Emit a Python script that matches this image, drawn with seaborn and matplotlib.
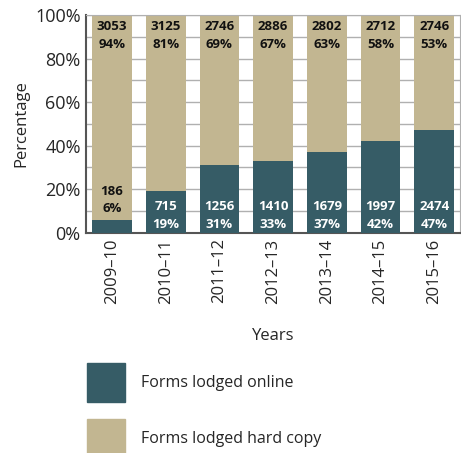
import numpy as np
import pandas as pd
import matplotlib
matplotlib.use("Agg")
import matplotlib.pyplot as plt
import matplotlib.patches as mpatches
import seaborn as sns

# data
years = ["2009–10", "2010–11", "2011–12", "2012–13", "2013–14", "2014–15", "2015–16"]
online_count = [186, 715, 1256, 1410, 1679, 1997, 2474]
hard_count = [3053, 3125, 2746, 2886, 2802, 2712, 2746]
online_pct = [6, 19, 31, 33, 37, 42, 47]
hard_pct = [94, 81, 69, 67, 63, 58, 53]

teal = "#365c66"
tan = "#c2b691"

sns.set_style("white")
plt.rcParams["font.family"] = ["Open Sans", "DejaVu Sans"]

df = pd.DataFrame({
    "year": years,
    "online": online_pct,
    "hard": hard_pct,
})
df["total"] = df["online"] + df["hard"]

fig = plt.figure(figsize=(4.61, 4.53), dpi=100)
ax = fig.add_axes([0.187, 0.486, 0.811, 0.481])

sns.barplot(data=df, x="year", y="total", color=tan, width=0.74,
            saturation=1, ax=ax, zorder=2, linewidth=0)
sns.barplot(data=df, x="year", y="online", color=teal, width=0.74,
            saturation=1, ax=ax, zorder=3, linewidth=0)

ax.set_ylim(0, 100)
ax.set_xlim(-0.48, len(years) - 0.52)
ax.set_yticks(range(0, 101, 20))
ax.set_yticklabels([f"{v}%" for v in range(0, 101, 20)], fontsize=13)
ax.set_yticks(range(0, 101, 10), minor=True)
ax.grid(axis="y", which="both", color="#b0b0b0", linewidth=1, zorder=0)
ax.set_axisbelow(True)
ax.tick_params(axis="y", which="both", length=0, pad=4)

ax.set_xticks(range(len(years)))
ax.set_xticklabels(years, rotation=90, fontsize=12)
ax.tick_params(axis="x", which="major", length=0, pad=4)
ax.set_xticks(np.arange(len(years) - 1) + 0.5, minor=True)
ax.tick_params(axis="x", which="minor", direction="in", length=4,
               width=1, color="#444444")

ax.set_xlabel("Years", fontsize=12, labelpad=17)
ax.set_ylabel("Percentage", fontsize=12, labelpad=4)

for side in ["top", "right"]:
    ax.spines[side].set_color("#b0b0b0")
for side in ["left", "bottom"]:
    ax.spines[side].set_color("#555555")
    ax.spines[side].set_linewidth(1.5)

# value labels
lbl = dict(ha="center", fontsize=9.5, fontweight="bold", linespacing=1.45,
           zorder=5)
for i in range(len(years)):
    ax.text(i, 97.5, f"{hard_count[i]}\n{hard_pct[i]}%", va="top",
            color="#111111", **lbl)
    if online_pct[i] < 12:
        ax.text(i, online_pct[i] + 2, f"{online_count[i]}\n{online_pct[i]}%",
                va="bottom", color="#111111", **lbl)
    else:
        ax.text(i, 1.0, f"{online_count[i]}\n{online_pct[i]}%",
                va="bottom", color="white", **lbl)

handles = [
    mpatches.Patch(color=teal, label="Forms lodged online"),
    mpatches.Patch(color=tan, label="Forms lodged hard copy"),
]
fig.legend(handles=handles, loc="upper left",
           bbox_to_anchor=(0.188, 1 - 363 / 453), frameon=False,
           fontsize=11.5, handlelength=2.4, handleheight=3.4,
           labelspacing=1.05, handletextpad=1.0, borderaxespad=0,
           borderpad=0)

fig.savefig("out.png", dpi=100)
